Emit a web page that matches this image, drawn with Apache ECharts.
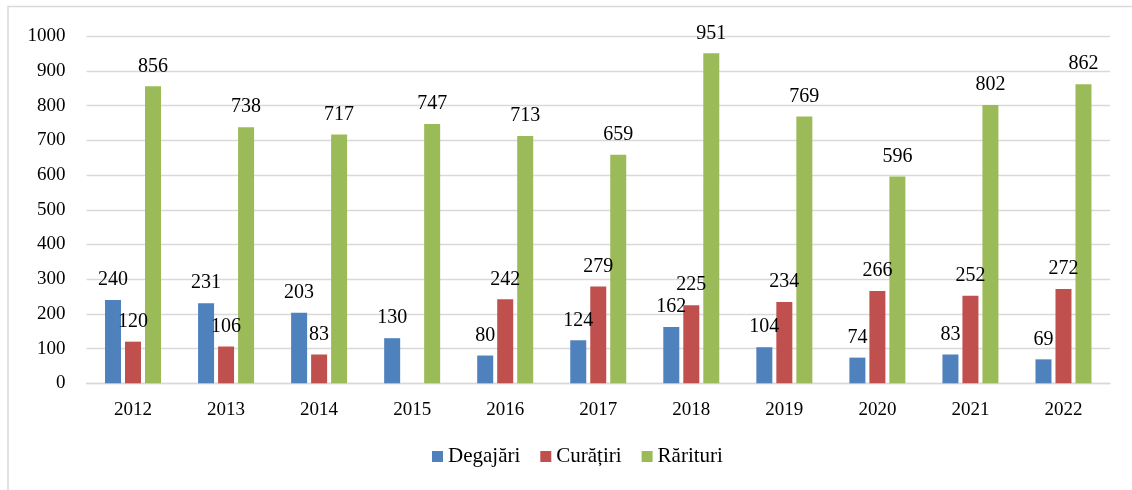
<!DOCTYPE html>
<html>
<head>
<meta charset="utf-8">
<script src="https://cdn.jsdelivr.net/npm/echarts@6/dist/echarts.min.js"></script>
<style>
  html, body { margin: 0; padding: 0; background: #fff; }
  #chart { width: 1132px; height: 490px; }
</style>
</head>
<body>
<div id="chart"></div>
<script>
// Years on the category axis
const years = ['2012', '2013', '2014', '2015', '2016', '2017', '2018', '2019', '2020', '2021', '2022'];
// Series names
const seriesNames = ['Degajări', 'Curățiri', 'Rărituri'];
// Values per series (null = no value recorded that year)
const degajari = [240, 231, 203, 130, 80, 124, 162, 104, 74, 83, 69];
const curatiri = [120, 106, 83, null, 242, 279, 225, 234, 266, 252, 272];
const rarituri = [856, 738, 717, 747, 713, 659, 951, 769, 596, 802, 862];
// Value-axis ticks
const yTicks = [0, 100, 200, 300, 400, 500, 600, 700, 800, 900, 1000];

const colors = ['#4F81BD', '#C0504D', '#9BBB59'];
const serif = "Liberation Serif";

const chart = echarts.init(document.getElementById('chart'), null, { renderer: 'canvas' });

function barSeries(name, data, color) {
  return {
    name: name,
    type: 'bar',
    data: data,
    barWidth: 16,
    barGap: '25%',
    itemStyle: { color: color },
    label: {
      show: true,
      position: 'top',
      distance: 10,
      fontFamily: serif,
      fontSize: 20,
      color: '#000'
    }
  };
}

chart.setOption({
  animation: false,
  backgroundColor: '#fff',
  color: colors,
  textStyle: { fontFamily: serif },
  graphic: [{
    type: 'rect',
    shape: { x: 8, y: 6.5, width: 1300, height: 700 },
    style: { fill: 'none', stroke: '#d9d9d9', lineWidth: 1.5 },
    silent: true
  }],
  grid: { left: 86.5, right: 22, top: 36.3, bottom: 106.7, containLabel: false },
  legend: {
    left: 432,
    top: 446,
    padding: 0,
    itemWidth: 11,
    itemHeight: 11,
    itemGap: 20,
    icon: 'rect',
    textStyle: { fontFamily: serif, fontSize: 21, color: '#000' },
    data: seriesNames
  },
  xAxis: {
    type: 'category',
    data: years,
    axisLine: { show: true, lineStyle: { color: '#d9d9d9', width: 1.3 } },
    axisTick: { show: false },
    axisLabel: { fontFamily: serif, fontSize: 19, color: '#000', margin: 17 }
  },
  yAxis: {
    type: 'value',
    min: yTicks[0],
    max: yTicks[yTicks.length - 1],
    interval: 100,
    axisLine: { show: false },
    axisTick: { show: false },
    splitLine: { lineStyle: { color: '#d9d9d9', width: 1.3 } },
    axisLabel: {
      fontFamily: serif, fontSize: 19, color: '#000', margin: 21,
      formatter: function (v) { return String(v); }
    }
  },
  series: [
    barSeries(seriesNames[0], degajari, colors[0]),
    barSeries(seriesNames[1], curatiri, colors[1]),
    barSeries(seriesNames[2], rarituri, colors[2])
  ]
});
</script>
</body>
</html>
